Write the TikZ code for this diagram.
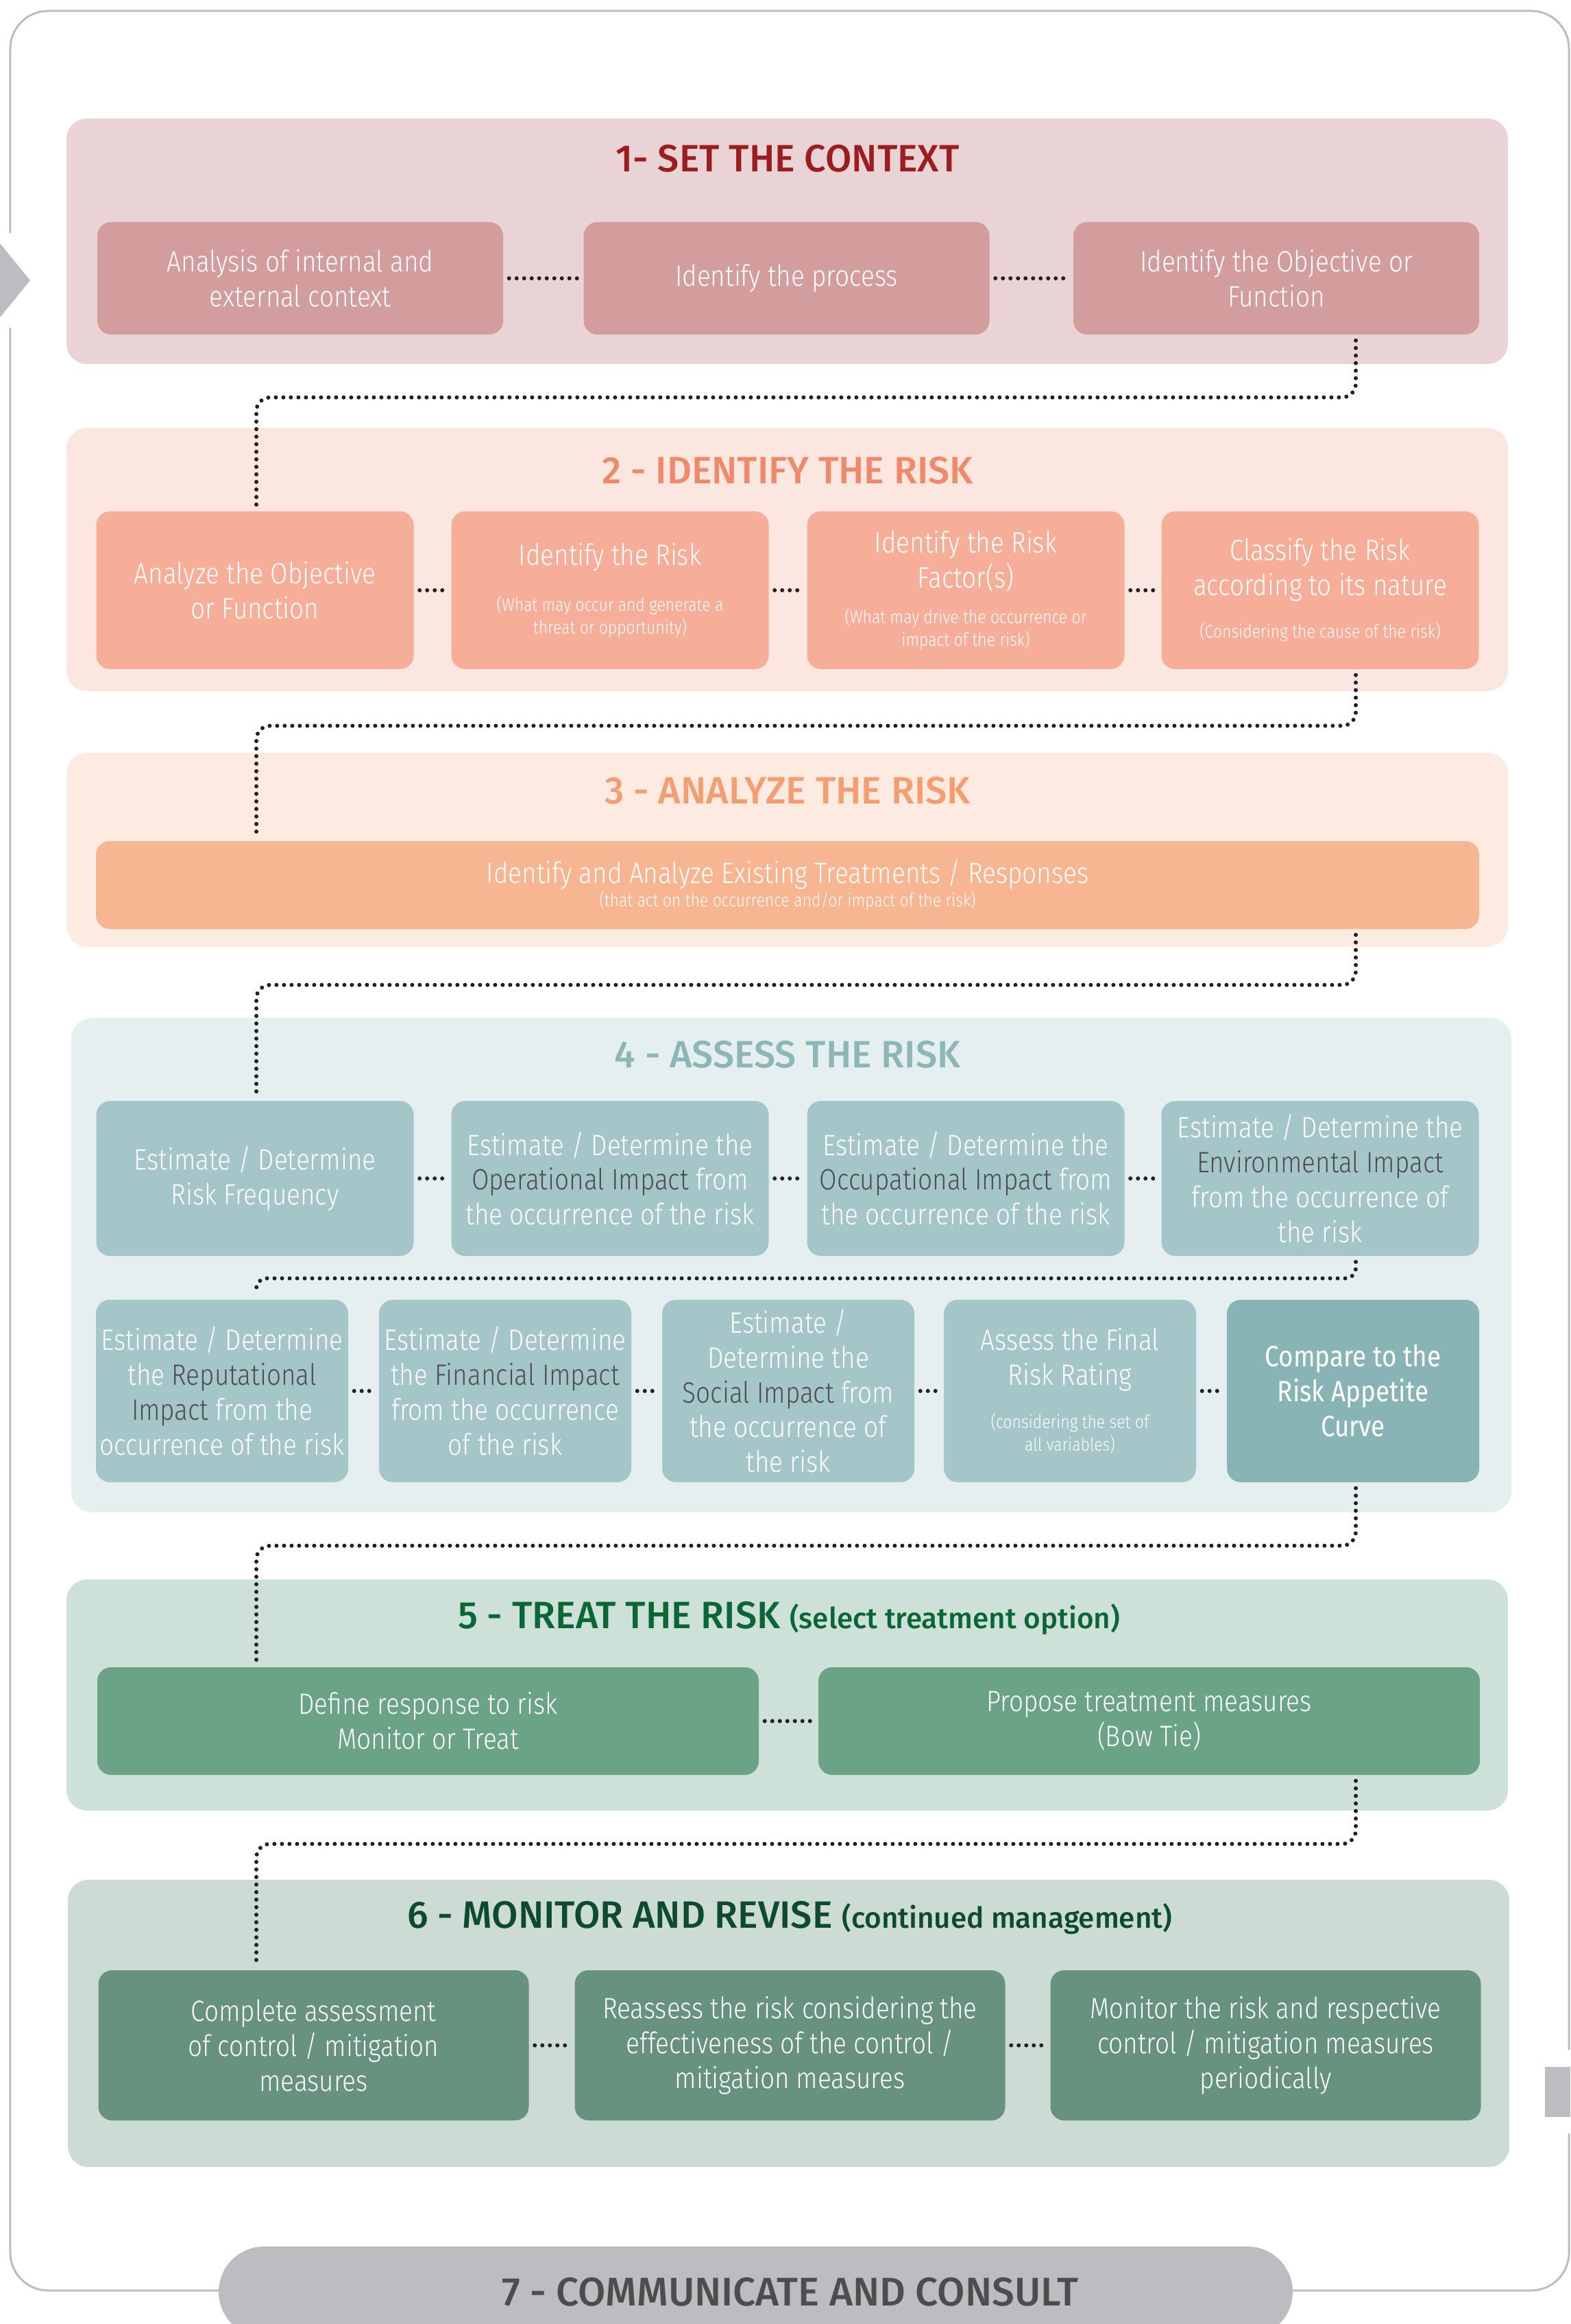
\documentclass[tikz,border=0pt]{standalone}
\usepackage{fontspec}
\IfFontExistsTF{Fira Sans Light}{%
  \setmainfont{Fira Sans Light}[FakeStretch=0.86]}{%
  \setmainfont{Fira Sans}[FakeStretch=0.86]}
\IfFontExistsTF{Fira Sans Medium}{%
  \newfontfamily\headfont{Fira Sans Medium}}{%
  \newfontfamily\headfont{Fira Sans}[UprightFont=*-Bold]}
\newfontfamily\regfont{Fira Sans}[FakeStretch=0.86]
\usetikzlibrary{calc}
\definecolor{framegray}{HTML}{BCBDC0}
\definecolor{dotblack}{HTML}{231F20}
\definecolor{dkgray}{HTML}{4D4D4F}
\definecolor{ctxout}{HTML}{EAD3D4}
\definecolor{ctxin}{HTML}{D39C9D}
\definecolor{ctxtitle}{HTML}{9D1C20}
\definecolor{idfout}{HTML}{FBE6E0}
\definecolor{idfin}{HTML}{F7AE98}
\definecolor{idftitle}{HTML}{F0886A}
\definecolor{anaout}{HTML}{FDEBE1}
\definecolor{anain}{HTML}{F8B591}
\definecolor{anatitle}{HTML}{F59D70}
\definecolor{asrout}{HTML}{E5EFEF}
\definecolor{asrin}{HTML}{A5C6C8}
\definecolor{asrdark}{HTML}{89B4B6}
\definecolor{asrtitle}{HTML}{8DB6B7}
\definecolor{trtout}{HTML}{CDE1D8}
\definecolor{trtin}{HTML}{6BA387}
\definecolor{trttitle}{HTML}{0A6634}
\definecolor{monout}{HTML}{CCDCD4}
\definecolor{monin}{HTML}{67927F}
\definecolor{montitle}{HTML}{0E4B2D}
\newcommand{\smalltxt}[2][0.25cm]{\par\vspace{#1}{\fontsize{7.6}{9.4}\selectfont #2\par}}
\newcommand{\dkw}[1]{\textcolor{dkgray}{#1}}

\begin{document}
\begin{tikzpicture}[
    section/.style={rectangle, rounded corners=0.3cm, minimum width=21.03cm, inner sep=0pt},
    cell/.style={rectangle, rounded corners=0.2cm, inner sep=0pt, text=white, align=flush center, font=\fontsize{12.2}{14.5}\selectfont},
    heading/.style={inner sep=0pt, font=\headfont\fontsize{15.8}{18}\selectfont},
    link/.style={draw=dotblack, line width=0.06cm, line cap=round, dash pattern=on 0pt off 0.11cm, rounded corners=0.2cm, shorten <=0.08cm, shorten >=0.08cm}
]
    \useasboundingbox (0,0) rectangle (22.91,-33.90);

    % outer frame with its two markers
    \draw[framegray, line width=0.03cm, rounded corners=0.55cm] (0.15,-4.78) -- (0.15,-33.41) -- (22.89,-33.41) -- (22.89,-31.12);
    \draw[framegray, line width=0.03cm, rounded corners=0.55cm] (22.89,-29.90) -- (22.89,-0.16) -- (0.15,-0.16) -- (0.15,-3.40);
    \fill[framegray] (0,-3.55) -- (0.44,-4.09) -- (0,-4.63) -- cycle;
    \fill[framegray] (22.54,-30.15) rectangle (22.91,-30.88);

    \coordinate (xl) at (3.74,0);
    \coordinate (xr) at (19.78,0);

    % 1 - set the context
    \node[section, fill=ctxout, minimum height=3.58cm] (sec1) at (11.485,-3.52) {};
    \node[heading, text=ctxtitle] (t1) at (11.49,-2.31) {1- SET THE CONTEXT};
    \node[cell, fill=ctxin, text width=5.92cm, minimum height=1.64cm] (ctx1) at (4.38,-4.06) {Analysis of internal and\\external context};
    \node[cell, fill=ctxin, text width=5.92cm, minimum height=1.64cm] (ctx2) at (11.475,-4.06) {Identify the process};
    \node[cell, fill=ctxin, text width=5.92cm, minimum height=1.64cm] (ctx3) at (18.62,-4.06) {Identify the Objective or\\Function};

    % 2 - identify the risk
    \node[section, fill=idfout, minimum height=3.84cm] (sec2) at (11.485,-8.16) {};
    \node[heading, text=idftitle] (t2) at (11.49,-6.86) {2 - IDENTIFY THE RISK};
    \node[cell, fill=idfin, text width=4.63cm, minimum height=2.30cm] (idf1) at (3.72,-8.61) {Analyze the Objective\\or Function};
    \node[cell, fill=idfin, text width=4.63cm, minimum height=2.30cm] (idf2) at (8.90,-8.61) {Identify the Risk\smalltxt[0.34cm]{(What may occur and generate a\\threat or opportunity)}};
    \node[cell, fill=idfin, text width=4.63cm, minimum height=2.30cm] (idf3) at (14.09,-8.61) {Identify the Risk\\Factor(s)\smalltxt[0.19cm]{(What may drive the occurrence or\\impact of the risk)}};
    \node[cell, fill=idfin, text width=4.63cm, minimum height=2.30cm] (idf4) at (19.26,-8.61) {Classify the Risk\\according to its nature\smalltxt[0.29cm]{(Considering the cause of the risk)}};

    % 3 - analyze the risk
    \node[section, fill=anaout, minimum height=2.83cm] (sec3) at (11.485,-12.395) {};
    \node[heading, text=anatitle] (t3) at (11.49,-11.53) {3 - ANALYZE THE RISK};
    \node[cell, fill=anain, text width=20.18cm, minimum height=1.28cm] (ana) at (11.49,-12.91) {Identify and Analyze Existing Treatments / Responses\smalltxt[0pt]{(that act on the occurrence and/or impact of the risk)}};

    % 4 - assess the risk
    \node[section, fill=asrout, minimum width=21.01cm, minimum height=7.21cm] (sec4) at (11.545,-18.455) {};
    \node[heading, text=asrtitle] (t4) at (11.49,-15.38) {4 - ASSESS THE RISK};
    \node[cell, fill=asrin, text width=4.63cm, minimum height=2.26cm] (asr1) at (3.72,-17.19) {Estimate / Determine\\Risk Frequency};
    \node[cell, fill=asrin, text width=4.63cm, minimum height=2.26cm] (asr2) at (8.90,-17.19) {Estimate / Determine the\\\dkw{Operational Impact} from\\the occurrence of the risk};
    \node[cell, fill=asrin, text width=4.63cm, minimum height=2.26cm] (asr3) at (14.09,-17.19) {Estimate / Determine the\\\dkw{Occupational Impact} from\\the occurrence of the risk};
    \node[cell, fill=asrin, text width=4.63cm, minimum height=2.26cm] (asr4) at (19.26,-17.19) {Estimate / Determine the\\\dkw{Environmental Impact}\\from the occurrence of\\the risk};
    \node[cell, fill=asrin, text width=3.68cm, minimum height=2.66cm] (asr5) at (3.24,-20.29) {Estimate / Determine\\the \dkw{Reputational}\\\dkw{Impact} from the\\occurrence of the risk};
    \node[cell, fill=asrin, text width=3.68cm, minimum height=2.66cm] (asr6) at (7.37,-20.29) {Estimate / Determine\\the \dkw{Financial Impact}\\from the occurrence\\of the risk};
    \node[cell, fill=asrin, text width=3.68cm, minimum height=2.66cm] (asr7) at (11.50,-20.29) {Estimate /\\Determine the\\\dkw{Social Impact} from\\the occurrence of\\the risk};
    \node[cell, fill=asrin, text width=3.68cm, minimum height=2.66cm] (asr8) at (15.61,-20.29) {Assess the Final\\Risk Rating\smalltxt[0.3cm]{(considering the set of\\all variables)}};
    \node[cell, fill=asrdark, text width=3.68cm, minimum height=2.66cm] (asr9) at (19.74,-20.29) {{\regfont Compare to the\\Risk Appetite\\Curve}};

    % 5 - treat the risk
    \node[section, fill=trtout, minimum height=3.37cm] (sec5) at (11.485,-24.725) {};
    \node[heading, text=trttitle] (t5) at (11.51,-23.60) {5 - TREAT THE RISK {\fontsize{12}{14}\selectfont (select treatment option)}};
    \node[cell, fill=trtin, text width=9.65cm, minimum height=1.57cm] (trt1) at (6.245,-25.105) {Define response to risk\\Monitor or Treat};
    \node[cell, fill=trtin, text width=9.65cm, minimum height=1.57cm] (trt2) at (16.765,-25.105) {Propose treatment measures\\(Bow Tie)};

    % 6 - monitor and revise
    \node[section, fill=monout, minimum height=4.19cm] (sec6) at (11.505,-29.515) {};
    \node[heading, text=montitle] (t6) at (11.52,-27.97) {6 - MONITOR AND REVISE {\fontsize{12}{14}\selectfont (continued management)}};
    \node[cell, fill=monin, text width=6.28cm, minimum height=2.19cm] (mon1) at (4.575,-29.835) {Complete assessment\\of control / mitigation\\measures};
    \node[cell, fill=monin, text width=6.28cm, minimum height=2.19cm] (mon2) at (11.525,-29.835) {Reassess the risk considering the\\effectiveness of the control /\\mitigation measures};
    \node[cell, fill=monin, text width=6.28cm, minimum height=2.19cm] (mon3) at (18.465,-29.835) {Monitor the risk and respective\\control / mitigation measures\\periodically};

    % 7 - communicate and consult
    \node[rectangle, rounded corners=0.66cm, fill=framegray, minimum width=15.67cm, minimum height=1.32cm] (comm) at (11.025,-33.43) {};
    \node[heading, text=dkgray, font=\headfont\fontsize{16.6}{19}\selectfont] (t7) at (11.53,-33.43) {7 - COMMUNICATE AND CONSULT};

    % links inside the stages
    \draw[link] (ctx1.east) -- (ctx2.west);
    \draw[link] (ctx2.east) -- (ctx3.west);
    \draw[link] (idf1.east) -- (idf2.west);
    \draw[link] (idf2.east) -- (idf3.west);
    \draw[link] (idf3.east) -- (idf4.west);
    \draw[link] (asr1.east) -- (asr2.west);
    \draw[link] (asr2.east) -- (asr3.west);
    \draw[link] (asr3.east) -- (asr4.west);
    \draw[link] (asr5.east) -- (asr6.west);
    \draw[link] (asr6.east) -- (asr7.west);
    \draw[link] (asr7.east) -- (asr8.west);
    \draw[link] (asr8.east) -- (asr9.west);
    \draw[link] (trt1.east) -- (trt2.west);
    \draw[link] (mon1.east) -- (mon2.west);
    \draw[link] (mon2.east) -- (mon3.west);

    % links between the stages
    \draw[link] (ctx3.south -| xr) -- ++(0,-0.91) -| (idf1.north -| xl);
    \draw[link] (idf4.south -| xr) -- ++(0,-0.82) -| (ana.north -| xl);
    \draw[link] (ana.south -| xr) -- ++(0,-0.81) -| (asr1.north -| xl);
    \draw[link, rounded corners=0.15cm] (asr4.south -| xr) -- ++(0,-0.32) -| (asr5.north -| xl);
    \draw[link] (asr9.south -| xr) -- ++(0,-0.92) -| (trt1.north -| xl);
    \draw[link] (trt2.south -| xr) -- ++(0,-1.0) -| (mon1.north -| xl);
\end{tikzpicture}
\end{document}
